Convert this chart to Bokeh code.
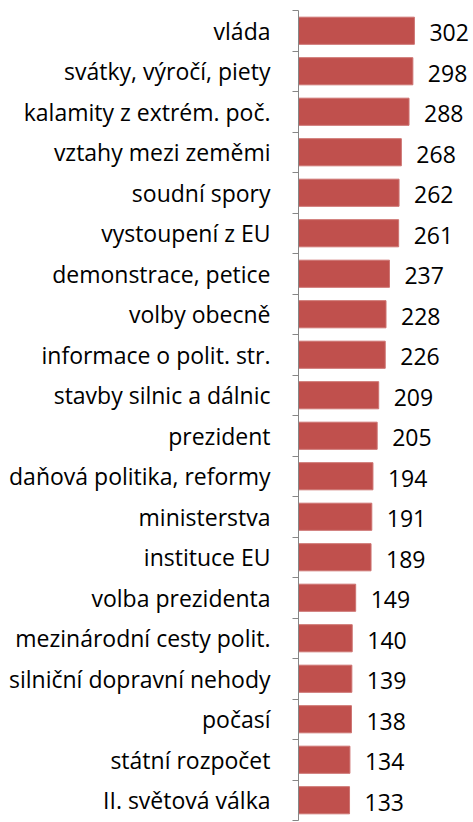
from bokeh.plotting import figure
from bokeh.models import Range1d, LinearAxis, FixedTicker, ColumnDataSource
from bokeh.core.properties import value
from bokeh.embed import file_html
from bokeh.resources import INLINE

categories = ["vláda", "svátky, výročí, piety", "kalamity z extrém. poč.", "vztahy mezi zeměmi",
              "soudní spory", "vystoupení z EU", "demonstrace, petice", "volby obecně",
              "informace o polit. str.", "stavby silnic a dálnic", "prezident",
              "daňová politika, reformy", "ministerstva", "instituce EU", "volba prezidenta",
              "mezinárodní cesty polit.", "silniční dopravní nehody", "počasí", "státní rozpočet",
              "II. světová válka"]
values = [302, 298, 288, 268, 262, 261, 237, 228, 226, 209, 205, 194, 191, 189, 149, 140, 139, 138, 134, 133]

n = len(categories)
pos = list(range(n))
src = ColumnDataSource(dict(y=pos, v=values, lab=[str(x) for x in values]))

FONT = "Open Sans"

p = figure(width=473, height=822, output_backend="svg", toolbar_location=None,
           x_range=Range1d(0, 456), y_range=Range1d(n - 0.5, -0.5),
           min_border_left=298, min_border_right=0, min_border_top=10, min_border_bottom=2,
           x_axis_location=None, y_axis_location=None)
p.outline_line_color = None
p.grid.visible = False
p.background_fill_color = "white"
p.border_fill_color = "white"

p.hbar(y="y", left=0, right="v", height=0.67, source=src,
       fill_color="#C0504D", line_color="#CD7371", line_width=1)

p.text(x="v", y="y", text="lab", source=src, x_offset=15, y_offset=2,
       text_baseline="middle", text_align="left",
       text_font=value(FONT), text_font_size="23px", text_color="#000000")

ax = LinearAxis(ticker=FixedTicker(ticks=pos, minor_ticks=[i - 0.5 for i in range(n + 1)]))
ax.major_label_overrides = {i: c for i, c in enumerate(categories)}
ax.major_tick_out = 0
ax.major_tick_in = 0
ax.minor_tick_out = 6
ax.minor_tick_in = 0
ax.minor_tick_line_color = "#868686"
ax.axis_line_color = "#868686"
ax.axis_line_width = 1
ax.major_label_standoff = 22
ax.major_label_text_font = FONT
ax.major_label_text_font_size = "23px"
ax.major_label_text_color = "#000000"
p.add_layout(ax, "left")

open("out.html", "w").write(file_html(p, INLINE))
